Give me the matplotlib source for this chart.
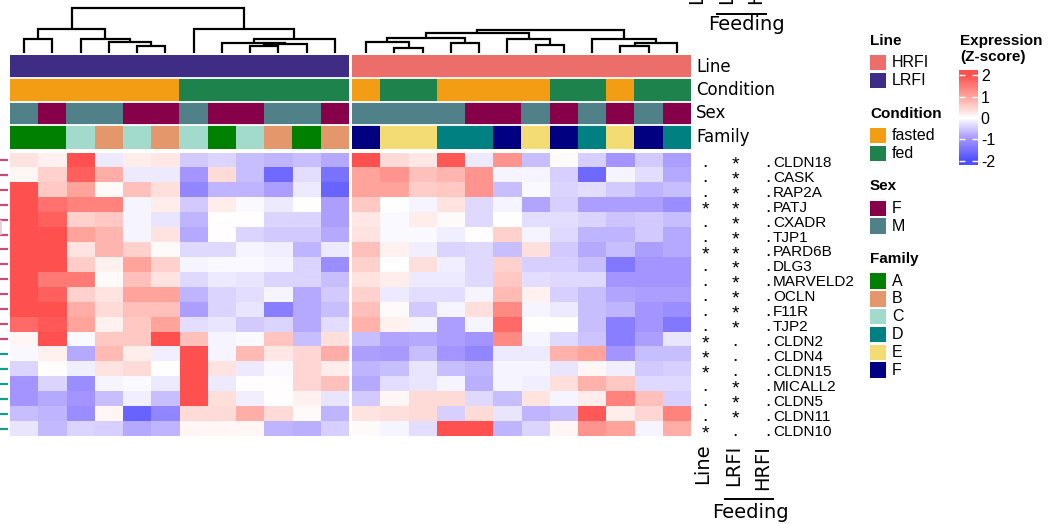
import numpy as np
import matplotlib
matplotlib.use("Agg")
import matplotlib.pyplot as plt
from matplotlib.colors import LinearSegmentedColormap, to_rgb
from matplotlib.patches import Rectangle

# ---------------- data ----------------
genes = ["CLDN18", "CASK", "RAP2A", "PATJ", "CXADR", "TJP1", "PARD6B", "DLG3",
         "MARVELD2", "OCLN", "F11R", "TJP2", "CLDN2", "CLDN4", "CLDN15",
         "MICALL2", "CLDN5", "CLDN11", "CLDN10"]
row_cluster = [1, 1, 1, 1, 1, 1, 1, 1, 1, 1, 1, 1, 1, 2, 2, 2, 2, 2, 2]

lrfi_z = [
    [0.3, 0.15, 2.0, -0.2, 0.2, 0.25, -0.5, -0.4, -0.6, -0.7, -0.6, -0.8],
    [0.1, 0.5, 1.8, 0.9, -0.2, -0.2, -1.0, 0.4, -0.6, -1.6, -0.3, -1.5],
    [2.0, 0.6, 1.0, 0.05, 0.7, 0.35, -1.2, -0.7, -0.7, -0.9, -0.2, -1.7],
    [2.0, 1.6, 1.4, 1.4, -0.1, 0.2, -0.5, 0.2, -0.05, -0.2, 0.0, -0.9],
    [2.0, 1.8, 0.5, 0.6, -0.1, -0.25, -0.7, 0.02, 0.02, -0.4, -0.4, -0.9],
    [2.0, 2.0, 1.0, 0.8, -0.1, 0.3, -0.8, 0.02, -0.4, -0.5, -0.5, -0.8],
    [2.0, 2.0, 0.3, 0.8, 0.5, 0.05, -0.35, -0.35, -0.1, -0.15, -0.7, -0.2],
    [2.0, 2.0, 0.55, 0.15, 1.0, 0.5, -0.1, -0.05, -0.05, -0.1, -0.4, -1.1],
    [2.0, 1.5, 1.5, 0.05, 0.7, 0.3, -0.35, -0.2, -0.25, -0.4, -0.4, -0.6],
    [2.0, 1.8, 0.5, 0.3, 1.0, 1.0, -0.7, -0.4, -0.3, -0.1, -0.8, -0.5],
    [2.0, 2.0, 0.9, 0.4, 0.7, 0.7, -0.9, -0.4, -0.25, -1.3, -0.8, -0.6],
    [1.7, 1.9, 1.0, 0.15, 0.6, 1.0, -0.3, -0.25, -0.5, -0.4, -0.8, -0.3],
    [0.1, 2.0, -0.05, 0.6, 0.6, 2.0, 0.7, -0.1, -0.05, 0.65, -0.6, 0.35],
    [-0.07, 0.15, -0.8, 0.75, 0.2, -0.15, 2.0, -0.1, 0.75, 0.25, 0.45, 0.9],
    [-0.4, 0.02, -0.15, 0.3, 0.4, 0.0, 2.0, 0.3, -0.2, -0.05, 0.45, 0.2],
    [-1.0, -0.4, -1.1, -0.1, -0.05, -0.2, 2.0, -0.2, 0.02, 0.03, 0.45, 0.7],
    [-1.0, -0.8, -1.0, -0.6, -0.15, -0.6, 2.0, 0.35, -0.15, 0.0, 0.15, -0.25],
    [-0.6, -0.7, -1.1, 0.1, -1.7, -1.2, 0.4, 0.4, 0.9, 0.4, 0.05, -0.7],
    [-0.25, -0.65, -0.4, -0.45, -0.8, -0.7, 0.1, 0.1, 0.08, -0.7, -0.75, -0.45],
]

hrfi_z = [
    [2.0, 0.4, 0.25, 1.9, -0.2, 1.2, -0.6, 0.05, -0.45, -1.0, -0.5, -0.9],
    [1.0, 1.2, 0.7, 0.8, 1.2, -0.1, -0.1, -0.45, -1.6, -0.1, -0.3, -0.8],
    [1.0, 1.0, 0.55, 0.6, 1.2, -0.6, -0.05, -0.4, -0.3, -0.5, -0.7, -0.6],
    [0.6, 0.0, -0.1, 0.3, -0.35, -0.1, -0.85, -0.45, -0.9, -0.9, -0.9, -1.1],
    [0.25, -0.05, 0.2, 0.05, -0.35, 0.0, -0.3, -0.3, -0.4, -0.55, -0.5, -0.6],
    [0.3, -0.05, -0.05, -0.15, 0.02, 0.5, -0.1, -0.35, -0.7, -0.7, -0.5, -0.8],
    [0.7, 0.15, -0.15, -0.4, -0.35, -0.6, 0.35, -0.5, -0.8, -0.6, -0.9, -0.8],
    [0.5, 0.03, 0.35, -0.15, -0.35, 0.5, -0.45, -0.45, -0.6, -1.4, -1.0, -1.0],
    [0.3, 0.2, -0.2, -0.2, -0.35, 0.6, -0.3, -0.35, -0.35, -1.0, -1.0, -1.0],
    [0.5, -0.2, -0.3, -0.3, -0.1, 0.75, 0.15, -0.45, -0.6, -0.85, -0.9, -0.9],
    [0.7, 0.05, -0.5, -0.1, 0.35, 1.3, -0.1, -0.2, -0.6, -0.7, -1.0, -1.1],
    [0.85, 0.15, -0.1, -0.9, -0.1, 1.7, 0.0, 0.0, -0.6, -1.3, -1.0, -1.4],
    [-0.6, -0.85, -0.8, -0.9, -1.0, 1.3, -0.1, -0.35, -0.55, -1.3, -0.9, -0.25],
    [-0.9, -0.95, -0.6, -1.0, -1.2, -0.2, -0.2, 0.85, 1.0, -1.0, -0.6, -0.6],
    [-0.7, -0.6, -0.25, -0.6, -0.7, -0.1, -0.1, -0.25, 0.1, -0.15, -0.5, -0.45],
    [-0.8, -0.3, -0.25, -0.1, -0.75, -0.1, -0.15, 0.35, 0.85, 0.6, -0.35, -0.35],
    [-0.5, 0.1, 0.4, 0.4, -0.35, -0.6, 0.3, -0.1, 0.2, 1.4, 0.7, -0.45],
    [0.3, 0.35, 0.4, -0.45, 0.4, -0.25, -0.7, -0.6, 1.9, 0.2, 0.45, 1.4],
    [0.05, -0.1, -0.3, 2.0, 2.0, -0.7, -0.4, 0.1, 1.2, 1.0, -0.1, 0.9],
]

lrfi_line = ["LRFI"] * 12
lrfi_condition = ["fasted", "fasted", "fasted", "fasted", "fasted", "fasted",
                  "fed", "fed", "fed", "fed", "fed", "fed"]
lrfi_sex = ["M", "F", "M", "M", "F", "F", "M", "F", "F", "M", "M", "F"]
lrfi_family = ["A", "A", "C", "B", "C", "B", "C", "A", "C", "B", "A", "B"]

hrfi_line = ["HRFI"] * 12
hrfi_condition = ["fasted", "fed", "fed", "fasted", "fasted", "fasted", "fasted",
                  "fed", "fed", "fasted", "fed", "fed"]
hrfi_sex = ["M", "M", "M", "M", "F", "F", "M", "F", "M", "F", "M", "F"]
hrfi_family = ["F", "E", "E", "D", "D", "F", "E", "F", "D", "E", "F", "D"]

# column dendrograms: (child a, child b, merge height); new cluster ids start at 12
lrfi_linkage = [(0, 1, 42), (4, 5, 23), (3, 13, 33), (2, 14, 43), (12, 15, 73),
                (8, 9, 23), (17, 10, 27), (7, 18, 30), (19, 11, 42), (6, 20, 73),
                (16, 21, 135)]
hrfi_linkage = [(1, 2, 15), (0, 12, 35), (3, 4, 32), (13, 14, 45), (6, 7, 25),
                (5, 16, 43), (15, 17, 62), (9, 10, 23), (19, 11, 32), (8, 20, 42),
                (18, 21, 70)]

sig_line = [".", ".", ".", "*", ".", ".", "*", ".", ".", ".", ".", ".",
            "*", "*", "*", ".", ".", ".", "*"]
sig_lrfi = ["*", "*", "*", "*", "*", "*", "*", "*", "*", "*", "*", "*",
            ".", ".", ".", "*", "*", "*", "."]
sig_hrfi = ["."] * 19
sig_columns = ["Line", "LRFI", "HRFI"]

line_colors = {"HRFI": "#EB6E6B", "LRFI": "#3F2D85"}
cond_colors = {"fasted": "#F29D13", "fed": "#1E824C"}
sex_colors = {"F": "#87004A", "M": "#508088"}
fam_colors = {"A": "#008000", "B": "#E3976A", "C": "#A2DACB",
              "D": "#008080", "E": "#F4DC74", "F": "#000080"}
cluster_colors = {1: "#CC4A76", 2: "#159E8A"}

# ---------------- figure ----------------
W, H = 1050, 524
fig = plt.figure(figsize=(W / 100, H / 100), dpi=100)
fig.patch.set_facecolor("white")

SANS = ["Liberation Sans", "DejaVu Sans"]
DJ = ["DejaVu Sans"]


def px_axes(x0, y0, x1, y1):
    ax = fig.add_axes([x0 / W, 1 - y1 / H, (x1 - x0) / W, (y1 - y0) / H])
    return ax


cmap = LinearSegmentedColormap.from_list(
    "z", [(0.0, "#4E4EFF"), (0.25, "#A394FF"), (0.5, "#FFFFFF"),
          (0.75, "#FFA49C"), (1.0, "#FF5050")])

HM_TOP, HM_BOT = 152.5, 436.0
blocks = [
    (10, 349, lrfi_z, lrfi_linkage,
     [lrfi_line, lrfi_condition, lrfi_sex, lrfi_family]),
    (352, 691, hrfi_z, hrfi_linkage,
     [hrfi_line, hrfi_condition, hrfi_sex, hrfi_family]),
]
ann_dicts = [line_colors, cond_colors, sex_colors, fam_colors]

for x0, x1, z, linkage, anns in blocks:
    # heatmap
    ax = px_axes(x0, HM_TOP, x1, HM_BOT)
    z = np.array(z)
    ax.pcolormesh(np.arange(z.shape[1] + 1), np.arange(z.shape[0] + 1), z,
                  cmap=cmap, vmin=-2, vmax=2)
    ax.set_xlim(0, z.shape[1])
    ax.set_ylim(z.shape[0], 0)
    ax.axis("off")

    # annotations
    axa = px_axes(x0, 55, x1, 148.7)
    img = np.array([[to_rgb(d[v]) for v in row] for row, d in zip(anns, ann_dicts)])
    axa.imshow(img, aspect="auto", extent=(0, len(anns[0]), len(anns), 0),
               interpolation="nearest")
    for yy in range(1, len(anns)):
        axa.axhline(yy, color="white", lw=1.3)
    axa.set_xlim(0, len(anns[0]))
    axa.set_ylim(len(anns), 0)
    axa.axis("off")

    # dendrogram
    axd = px_axes(x0, 0, x1, 53.3)
    n = len(anns[0])
    pos = {i: i + 0.5 for i in range(n)}
    hgt = {i: 0.0 for i in range(n)}
    for k, (a, b, h) in enumerate(linkage):
        axd.plot([pos[a], pos[a], pos[b], pos[b]], [hgt[a], h, h, hgt[b]],
                 color="black", lw=1.6, solid_capstyle="butt",
                 solid_joinstyle="miter")
        pos[n + k] = (pos[a] + pos[b]) / 2
        hgt[n + k] = h
    axd.set_xlim(0, n)
    axd.set_ylim(0, 160)
    axd.axis("off")

# row dendrogram leaves (cut off at left edge)
axr = px_axes(0, HM_TOP, 10, HM_BOT)
for i, c in enumerate(row_cluster):
    axr.hlines(i + 0.5, 0, 8, color=cluster_colors[c], lw=1.6)
axr.vlines(0.6, 4.5, 5.5, color="#E6C9D4", lw=1.2)
axr.set_xlim(0, 10)
axr.set_ylim(len(genes), 0)
axr.axis("off")

# annotation names
for name, yy in zip(["Line", "Condition", "Sex", "Family"], [66.5, 90, 113, 137]):
    fig.text(696 / W, 1 - yy / H, name, family=DJ, fontsize=12, va="center", ha="left")

# significance columns and gene labels
axs = px_axes(691, HM_TOP, 880, HM_BOT)
axs.set_xlim(691, 880)
axs.set_ylim(len(genes), 0)
axs.axis("off")
rowpx = (HM_BOT - HM_TOP) / len(genes)
sig_x = [705, 735, 768]
for col, xs in zip([sig_line, sig_lrfi, sig_hrfi], sig_x):
    for i, s in enumerate(col):
        if s == "*":
            axs.text(xs, i + 0.5 + 9.5 / rowpx, "*", family=SANS, fontsize=14,
                     ha="center", va="baseline")
        else:
            axs.text(xs, i + 0.5 + 7.0 / rowpx, ".", family=SANS, fontsize=14,
                     ha="center", va="baseline")
for i, g in enumerate(genes):
    axs.text(773, i + 0.5 + 7.0 / rowpx, g, family=SANS, fontsize=11,
             ha="left", va="baseline")

# bottom column labels
for name, xx, yt in zip(sig_columns, [703, 734, 762.5], [443, 445, 445]):
    fig.text(xx / W, 1 - yt / H, name, family=DJ, fontsize=14, rotation=90,
             ha="center", va="top")
fig.add_artist(plt.Line2D([725 / W, 773 / W], [1 - 499 / H, 1 - 499 / H],
                          color="black", lw=1.4))
fig.text(750 / W, 1 - 512 / H, "Feeding", family=DJ, fontsize=14, ha="center", va="center")

# top (cut-off) column labels
for name, xx in zip(sig_columns, [697, 726.5, 756]):
    fig.text(xx / W, 1 - 4.5 / H, name, family=DJ, fontsize=14, rotation=90,
             ha="center", va="bottom")
fig.add_artist(plt.Line2D([717 / W, 766 / W], [1 - 13.5 / H, 1 - 13.5 / H],
                          color="black", lw=1.4))
fig.text(746.5 / W, 1 - 25 / H, "Feeding", family=DJ, fontsize=14, ha="center", va="center")

# legends
axl = fig.add_axes([0, 0, 1, 1])
axl.set_xlim(0, W)
axl.set_ylim(H, 0)
axl.axis("off")
axl.patch.set_alpha(0)
legends = [("Line", line_colors), ("Condition", cond_colors),
           ("Sex", sex_colors), ("Family", fam_colors)]
y = 40.7
for title, d in legends:
    axl.text(870, y, title, family=SANS, fontsize=11, fontweight="bold",
             ha="left", va="center")
    y += 22
    for lab, col in d.items():
        axl.add_patch(Rectangle((870, y - 7.7), 16, 15.4, facecolor=col,
                                edgecolor="none"))
        axl.text(892, y, lab, family=SANS, fontsize=11.5, ha="left", va="center")
        y += 17.8
    y += 33 - 17.8

# colour bar
axl.text(960, 40.7, "Expression", family=SANS, fontsize=11, fontweight="bold",
         ha="left", va="center")
axl.text(960, 57.5, "(Z-score)", family=SANS, fontsize=11, fontweight="bold",
         ha="left", va="center")
cax = px_axes(959, 70, 978, 165)
vals = np.linspace(-2.2, 2.25, 200)
cax.pcolormesh([0, 1], vals, np.clip(vals[:-1], -2, 2)[:, None], cmap=cmap,
               vmin=-2, vmax=2, shading="flat")
cax.set_xlim(0, 1)
cax.set_ylim(vals[0], vals[-1])
ticks = [-2, -1, 0, 1, 2]
cax.set_yticks(ticks)
cax.set_yticklabels(["-2", "-1", "0", "1", "2"], family=SANS, fontsize=11.5)
cax.yaxis.tick_right()
cax.tick_params(axis="y", which="both", direction="in", length=4, width=1,
                color="white", pad=2, left=True, right=True)
cax.set_xticks([])
for sp in cax.spines.values():
    sp.set_visible(False)

fig.savefig("out.png", dpi=100)
